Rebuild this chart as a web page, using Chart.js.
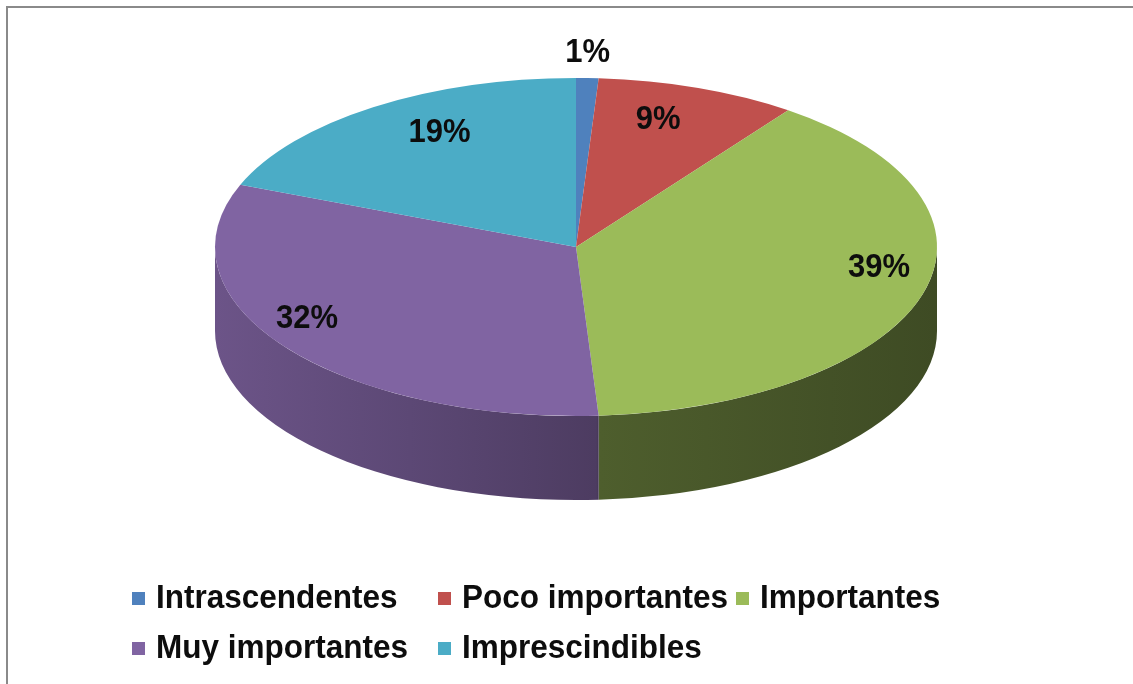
<!DOCTYPE html>
<html>
<head>
<meta charset="utf-8">
<script src="https://cdn.jsdelivr.net/npm/chart.js@4"></script>
<style>
  html, body { margin: 0; padding: 0; background: #ffffff; }
  #wrap { width: 1133px; height: 684px; position: relative; }
  canvas { display: block; }
</style>
</head>
<body>
<div id="wrap"><canvas id="c" width="1133" height="684"></canvas></div>
<script>
// ---- data ----
const categories = ['Intrascendentes', 'Poco importantes', 'Importantes', 'Muy importantes', 'Imprescindibles'];
const percentages = [1, 9, 39, 32, 19];

// ---- styles ----
const sliceColors = ['#4F81BD', '#C0504D', '#9BBB59', '#8064A2', '#4BACC6'];
const FONT = '"Liberation Sans", Arial, sans-serif';

function shade(hex, f) {
  const n = parseInt(hex.slice(1), 16);
  const r = Math.round(((n >> 16) & 255) * f);
  const g = Math.round(((n >> 8) & 255) * f);
  const b = Math.round((n & 255) * f);
  return `rgb(${r},${g},${b})`;
}

// frame + background
const framePlugin = {
  id: 'frame',
  beforeDraw(chart) {
    const ctx = chart.ctx;
    ctx.save();
    ctx.fillStyle = '#ffffff';
    ctx.fillRect(0, 0, chart.width, chart.height);
    ctx.strokeStyle = '#8a8a8a';
    ctx.lineWidth = 2;
    ctx.beginPath();
    ctx.moveTo(7, chart.height);
    ctx.lineTo(7, 7);
    ctx.lineTo(chart.width, 7);
    ctx.stroke();
    ctx.restore();
  }
};

// squashes the library's pie into an ellipse and extrudes the visible front walls
const pie3dPlugin = {
  id: 'pie3d',
  beforeDatasetsDraw(chart, args, opts) {
    const arcs = chart.getDatasetMeta(0).data;
    const ctx = chart.ctx;
    ctx.save();
    if (!arcs.length) return;
    const p0 = arcs[0].getProps(['x', 'y', 'outerRadius'], true);
    const ax = p0.x, ay = p0.y, R = p0.outerRadius;
    const sx = opts.rx / R, sy = opts.ry / R;
    chart.$pie3d = { ax, ay, R, sx, sy };
    ctx.translate(opts.cx, opts.cy);
    ctx.scale(sx, sy);
    ctx.translate(-ax, -ay);
    const d = opts.depth / sy;
    const colors = chart.data.datasets[0].backgroundColor;
    arcs.forEach((arc, i) => {
      const { startAngle, endAngle } = arc.getProps(['startAngle', 'endAngle'], true);
      for (let k = -1; k <= 1; k++) {
        const lo = Math.max(startAngle, k * 2 * Math.PI);
        const hi = Math.min(endAngle, k * 2 * Math.PI + Math.PI);
        if (hi <= lo) continue;
        ctx.beginPath();
        ctx.arc(ax, ay, R, lo, hi);
        ctx.arc(ax, ay + d, R, hi, lo, true);
        ctx.closePath();
        const g = ctx.createLinearGradient(ax - R, 0, ax + R, 0);
        opts.wallShade.forEach(([pos, f]) => g.addColorStop(pos, shade(colors[i], f)));
        ctx.fillStyle = g;
        ctx.fill();
      }
    });
  },
  afterDatasetsDraw(chart, args, opts) {
    const ctx = chart.ctx;
    ctx.restore();
    const t = chart.$pie3d;
    if (!t) return;
    const arcs = chart.getDatasetMeta(0).data;
    const values = chart.data.datasets[0].data;
    const total = values.reduce((a, b) => a + b, 0);
    ctx.save();
    ctx.fillStyle = opts.labelColor;
    ctx.font = opts.labelFont;
    ctx.textAlign = 'center';
    ctx.textBaseline = 'middle';
    arcs.forEach((arc, i) => {
      const { startAngle, endAngle } = arc.getProps(['startAngle', 'endAngle'], true);
      const mid = (startAngle + endAngle) / 2;
      const f = opts.labelRadius[i];
      const lx = Math.cos(mid) * t.R * f;
      const ly = Math.sin(mid) * t.R * f;
      const X = opts.cx + lx * t.sx;
      const Y = opts.cy + ly * t.sy - opts.labelLift;
      ctx.save();
      ctx.translate(X, Y);
      ctx.scale(1, opts.textStretch);
      ctx.fillText(Math.round(values[i] / total * 100) + '%', 0, 0);
      ctx.restore();
    });
    ctx.restore();
  }
};

// grid legend (Excel style columns)
const gridLegendPlugin = {
  id: 'gridLegend',
  afterDraw(chart, args, opts) {
    const ctx = chart.ctx;
    const colors = chart.data.datasets[0].backgroundColor;
    ctx.save();
    ctx.font = opts.font;
    ctx.textAlign = 'left';
    ctx.textBaseline = 'alphabetic';
    chart.data.labels.forEach((label, i) => {
      const col = i % opts.perRow;
      const row = Math.floor(i / opts.perRow);
      const tx = opts.columns[col];
      const by = opts.baselines[row];
      ctx.fillStyle = colors[i];
      ctx.fillRect(tx - opts.boxGap, by - opts.boxRaise, opts.boxSize, opts.boxSize);
      ctx.fillStyle = opts.color;
      ctx.save();
      ctx.translate(tx, by);
      ctx.scale(1, opts.textStretch);
      ctx.fillText(label, 0, 0);
      ctx.restore();
    });
    ctx.restore();
  }
};

new Chart(document.getElementById('c'), {
  type: 'pie',
  data: {
    labels: categories,
    datasets: [{
      data: percentages,
      backgroundColor: sliceColors,
      borderWidth: 0,
      clip: false
    }]
  },
  options: {
    responsive: false,
    animation: false,
    events: [],
    devicePixelRatio: 1,
    rotation: 0,
    layout: { padding: 0 },
    plugins: {
      legend: { display: false },
      tooltip: { enabled: false },
      title: { display: false },
      pie3d: {
        cx: 576, cy: 247, rx: 361, ry: 169, depth: 84,
        wallShade: [[0, 0.84], [0.27, 0.72], [0.528, 0.60], [0.533, 0.50], [1, 0.40]],
        labelRadius: [1.03, 0.672, 0.874, 0.921, 0.673],
        labelLift: 20,
        labelFont: 'bold 31px ' + FONT,
        labelColor: '#0d0d0d',
        textStretch: 1.08
      },
      gridLegend: {
        perRow: 3,
        columns: [156, 462, 760],
        baselines: [608, 658],
        boxSize: 13,
        boxGap: 24,
        boxRaise: 16,
        font: 'bold 31.5px ' + FONT,
        color: '#0d0d0d',
        textStretch: 1.05
      }
    }
  },
  plugins: [framePlugin, pie3dPlugin, gridLegendPlugin]
});
</script>
</body>
</html>
